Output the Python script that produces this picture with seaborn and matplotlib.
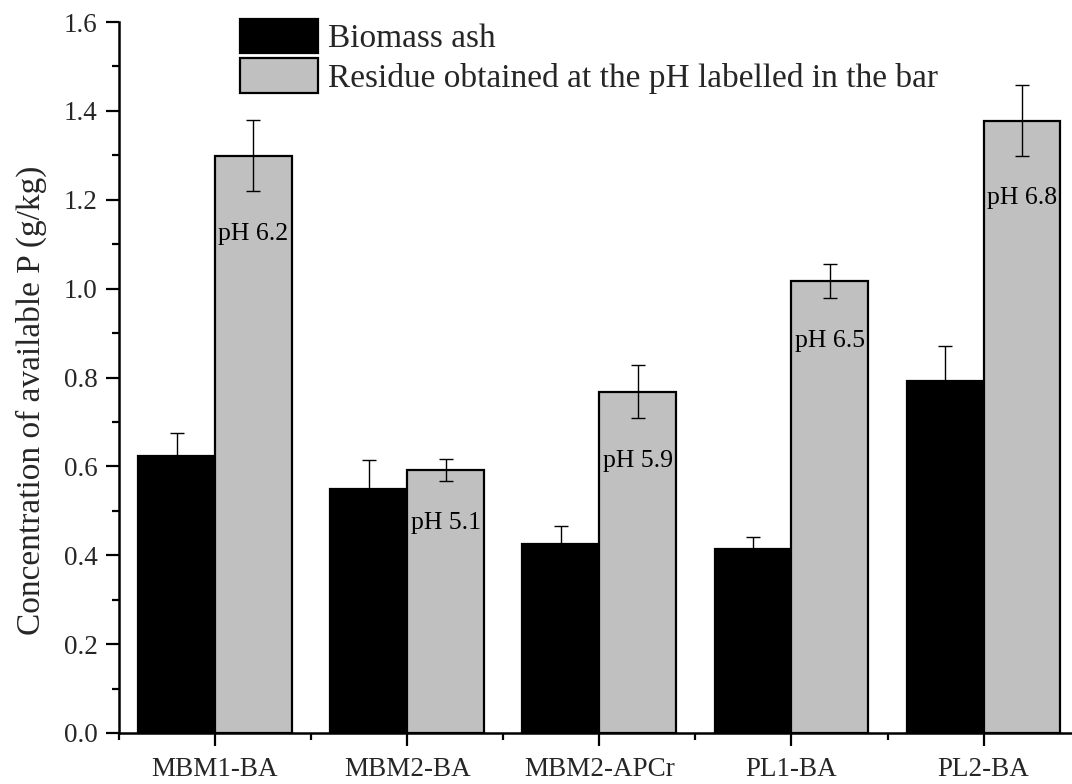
import matplotlib
matplotlib.use("Agg")
import matplotlib.pyplot as plt
from matplotlib.ticker import MultipleLocator, FixedLocator, FormatStrFormatter
import seaborn as sns
import pandas as pd

categories = ["MBM1-BA", "MBM2-BA", "MBM2-APCr", "PL1-BA", "PL2-BA"]
series_names = ["Biomass ash", "Residue obtained at the pH labelled in the bar"]
ash = [0.624, 0.548, 0.425, 0.413, 0.792]
ash_err = [0.050, 0.066, 0.041, 0.027, 0.079]
residue = [1.299, 0.592, 0.768, 1.017, 1.378]
residue_err = [0.080, 0.025, 0.060, 0.039, 0.080]
ph_labels = ["pH 6.2", "pH 5.1", "pH 5.9", "pH 6.5", "pH 6.8"]

sns.set_style("ticks")
plt.rcParams["font.family"] = ["Liberation Serif", "DejaVu Serif"]

df = pd.DataFrame({
    "category": categories * 2,
    "series": [series_names[0]] * len(categories) + [series_names[1]] * len(categories),
    "value": ash + residue,
})

fig = plt.figure(figsize=(10.72, 7.84), dpi=100)
ax = fig.add_axes([119 / 1072, 1 - 733 / 784, (1072 - 119) / 1072, (733 - 22) / 784])

sns.barplot(data=df, x="category", y="value", hue="series", order=categories,
            hue_order=series_names, palette=["black", "#c0c0c0"],
            edgecolor="black", linewidth=1.6, errorbar=None, width=0.8,
            saturation=1, ax=ax)

errs = [ash_err, residue_err]
vals = [ash, residue]
for cont, v, e in zip(ax.containers, vals, errs):
    xs = [p.get_x() + p.get_width() / 2 for p in cont.patches]
    ax.errorbar(xs, v, yerr=e, fmt="none", ecolor="black", elinewidth=1.0,
                capsize=5, capthick=1.0, zorder=5)

# pH labels inside residue bars
res_cont = ax.containers[1]
for p, v, e, lab in zip(res_cont.patches, residue, residue_err, ph_labels):
    ax.text(p.get_x() + p.get_width() / 2, v - e - 0.095, lab, ha="center",
            va="center", fontsize=18.5, color="black", zorder=6)

ax.set_xlim(-0.5, 4.46)
ax.set_ylim(0, 1.6)
ax.yaxis.set_major_locator(MultipleLocator(0.2))
ax.yaxis.set_minor_locator(MultipleLocator(0.1))
ax.xaxis.set_minor_locator(FixedLocator([i + 0.5 for i in range(-1, len(categories))]))
ax.yaxis.set_major_formatter(FormatStrFormatter("%.1f"))

ax.tick_params(axis="both", which="major", direction="out", length=9.5, width=1.6,
               labelsize=19.5, color="black")
ax.tick_params(axis="y", which="major", pad=6)
ax.tick_params(axis="x", which="major", pad=8)
ax.tick_params(axis="both", which="minor", direction="out", length=5, width=1.6,
               color="black")
for s in ["top", "right"]:
    ax.spines[s].set_visible(False)
for s in ["left", "bottom"]:
    ax.spines[s].set_linewidth(1.8)
    ax.spines[s].set_color("black")

ax.set_xlabel("")
ax.set_ylabel("Concentration of available P (g/kg)", fontsize=24)
ax.yaxis.set_label_coords(-0.076, 0.468)

if ax.get_legend() is not None:
    ax.get_legend().remove()
handles = [ax.containers[0].patches[0], ax.containers[1].patches[0]]
fig.legend(handles, series_names, loc="upper left",
           bbox_to_anchor=(240 / 1072, 1 - 19 / 784), frameon=False,
           fontsize=24, handlelength=2.35, handleheight=1.2,
           handletextpad=0.3, labelspacing=0.12, borderpad=0, borderaxespad=0)

fig.savefig("out.png", dpi=100)
